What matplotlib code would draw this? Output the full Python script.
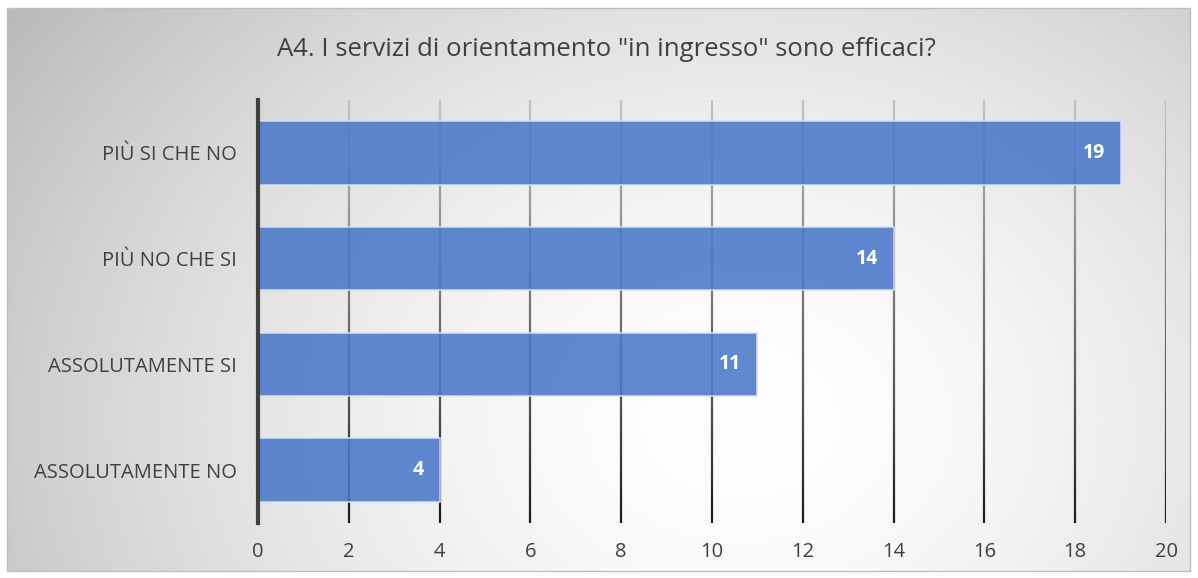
"""Bar chart: A4. I servizi di orientamento "in ingresso" sono efficaci?"""
import matplotlib
matplotlib.use("Agg")
import matplotlib.pyplot as plt
import numpy as np
from matplotlib.collections import LineCollection
from matplotlib.patches import Rectangle

categories = ["ASSOLUTAMENTE NO", "ASSOLUTAMENTE SI", "PIÙ NO CHE SI", "PIÙ SI CHE NO"]
counts = [4, 11, 14, 19]
x_ticks = [0, 2, 4, 6, 8, 10, 12, 14, 16, 18, 20]
title = 'A4. I servizi di orientamento "in ingresso" sono efficaci?'

plt.rcParams["font.family"] = ["Open Sans", "DejaVu Sans"]

W, H = 1198, 578
fig = plt.figure(figsize=(W / 100, H / 100), dpi=100)

# background with radial gradient inside a thin frame
bg = fig.add_axes([0, 0, 1, 1], zorder=-10)
bg.set_axis_off()
yy, xx = np.mgrid[0:H, 0:W]
r = np.sqrt(((xx - 740) / 760) ** 2 + ((yy - 420) / 600) ** 2)
shade = np.clip(1.0 - 0.21 * r ** 1.6, 0, 1)
img = np.dstack([shade] * 3)
frame = (xx < 7) | (xx > W - 8) | (yy < 8) | (yy > H - 7)
img[frame] = 1.0
bg.imshow(img, extent=[0, W, H, 0], aspect="auto")
bg.add_patch(Rectangle((7, 8), W - 15, H - 15, fill=False, edgecolor="#BFBFBF", linewidth=1))
bg.set_xlim(0, W)
bg.set_ylim(H, 0)

ax = fig.add_axes([258 / W, 1 - 523 / H, (1166 - 258) / W, (523 - 100) / H])
ax.patch.set_alpha(0)
ypos = np.arange(len(categories))
ax.set_xlim(0, 20)
ax.set_ylim(-0.5, len(categories) - 0.5)

# vertical gridlines, lighter at top and darker at bottom
n = 60
ys = np.linspace(-0.5, len(categories) - 0.5, n + 1)
for t in x_ticks[1:]:
    segs = [[(t, ys[i]), (t, ys[i + 1])] for i in range(n)]
    cols = [plt.cm.Greys(0.35 + 0.55 * (1 - (i / n))) for i in range(n)]
    ax.add_collection(LineCollection(segs, colors=cols, linewidths=1.6, zorder=1))

ax.barh(ypos, counts, height=0.6, color="#4A78C9", alpha=0.88,
        edgecolor="#D9E2F3", linewidth=1.2, zorder=2)
for y, v in zip(ypos, counts):
    ax.text(v - 0.35, y, str(v), ha="right", va="center", color="white",
            fontsize=14, fontweight="bold", zorder=3)

for s in ["top", "right", "bottom"]:
    ax.spines[s].set_visible(False)
ax.spines["left"].set_color("#404040")
ax.spines["left"].set_linewidth(3)
ax.spines["left"].set_zorder(4)

ax.set_xticks(x_ticks)
ax.set_yticks(ypos)
ax.set_yticklabels(categories)
ax.tick_params(axis="both", length=0, labelsize=14.5, labelcolor="#404040")
ax.tick_params(axis="x", pad=14)
ax.tick_params(axis="y", pad=15)

fig.text(606 / W, 1 - 50 / H, title, ha="center", va="center", fontsize=18.5, color="#404040")

fig.savefig("out.png", dpi=100)
plt.close(fig)
